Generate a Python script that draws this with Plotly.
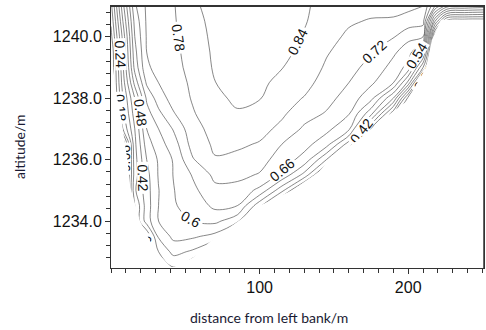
import plotly.graph_objects as go
import numpy as np

# Stations across the section (distance from left bank, m)
station_x = [0, 8, 16, 24, 32, 42, 55, 70, 85, 100, 115, 130, 145, 160, 175, 190, 200, 210, 218, 226, 238, 251]
# Altitude levels (m)
level_y = [1232.5, 1233.0, 1233.5, 1234.0, 1234.5, 1235.0, 1235.5, 1236.0, 1236.5,
           1237.0, 1237.5, 1238.0, 1238.5, 1239.0, 1239.5, 1240.0, 1240.5, 1241.0]

# Velocity profiles (m/s) per station, bottom -> top
v_x0   = [0, 0, 0, 0, 0, 0, 0, 0, 0, 0, 0, 0, 0, 0, 0.0, 0.04, 0.07, 0.10]
v_x8   = [0, 0, 0, 0, 0, 0, 0, 0, 0, 0.18, 0.22, 0.24, 0.27, 0.29, 0.305, 0.32, 0.36, 0.40]
v_x16  = [0.3, 0.3, 0.3, 0.3, 0.3, 0.35, 0.33, 0.335, 0.345, 0.36, 0.39, 0.42, 0.5, 0.56, 0.58, 0.6, 0.62, 0.65]
v_x24  = [0.3, 0.3, 0.3, 0.45, 0.45, 0.455, 0.46, 0.48, 0.51, 0.54, 0.575, 0.61, 0.67, 0.71, 0.72, 0.725, 0.728, 0.73]
v_x32  = [0.3, 0.42, 0.49, 0.54, 0.54, 0.538, 0.545, 0.548, 0.575, 0.60, 0.645, 0.69, 0.72, 0.74, 0.745, 0.745, 0.748, 0.75]
v_x42  = [0.42, 0.50, 0.555, 0.59, 0.595, 0.597, 0.602, 0.605, 0.63, 0.665, 0.715, 0.745, 0.755, 0.765, 0.768, 0.77, 0.773, 0.775]
v_x55  = [0.35, 0.47, 0.55, 0.60, 0.62, 0.645, 0.665, 0.715, 0.745, 0.76, 0.775, 0.785, 0.79, 0.795, 0.80, 0.81, 0.82, 0.83]
v_x70  = [0.3, 0.35, 0.52, 0.615, 0.675, 0.705, 0.735, 0.776, 0.79, 0.80, 0.815, 0.828, 0.839, 0.848, 0.852, 0.855, 0.857, 0.86]
v_x85  = [0.3, 0.3, 0.3, 0.56, 0.66, 0.70, 0.735, 0.765, 0.79, 0.815, 0.835, 0.85, 0.86, 0.865, 0.87, 0.87, 0.87, 0.87]
v_x100 = [0.3, 0.3, 0.3, 0.3, 0.5, 0.645, 0.715, 0.745, 0.775, 0.80, 0.82, 0.843, 0.855, 0.865, 0.87, 0.87, 0.87, 0.87]
v_x115 = [0.3, 0.3, 0.3, 0.3, 0.3, 0.5, 0.645, 0.69, 0.72, 0.765, 0.79, 0.805, 0.82, 0.842, 0.855, 0.86, 0.86, 0.86]
v_x130 = [0.3, 0.3, 0.3, 0.3, 0.3, 0.3, 0.52, 0.64, 0.68, 0.71, 0.745, 0.777, 0.80, 0.815, 0.825, 0.835, 0.845, 0.85]
v_x145 = [0.3, 0.3, 0.3, 0.3, 0.3, 0.3, 0.3, 0.48, 0.625, 0.675, 0.715, 0.74, 0.755, 0.772, 0.785, 0.80, 0.81, 0.815]
v_x160 = [0.3, 0.3, 0.3, 0.3, 0.3, 0.3, 0.3, 0.3, 0.45, 0.615, 0.665, 0.695, 0.72, 0.74, 0.755, 0.77, 0.787, 0.80]
v_x175 = [0.25, 0.25, 0.25, 0.25, 0.25, 0.25, 0.25, 0.25, 0.25, 0.3, 0.5, 0.62, 0.67, 0.70, 0.725, 0.75, 0.775, 0.80]
v_x190 = [0.2, 0.2, 0.2, 0.2, 0.2, 0.2, 0.2, 0.2, 0.2, 0.2, 0.2, 0.42, 0.6, 0.64, 0.67, 0.725, 0.772, 0.80]
v_x200 = [0, 0, 0, 0, 0, 0, 0, 0, 0, 0, 0, 0.1, 0.4, 0.58, 0.63, 0.675, 0.755, 0.795]
v_x210 = [0, 0, 0, 0, 0, 0, 0, 0, 0, 0, 0, 0, 0, 0.3, 0.5, 0.66, 0.74, 0.785]
v_x218 = [0, 0, 0, 0, 0, 0, 0, 0, 0, 0, 0, 0, 0, 0, 0, 0, 0.3, 0.6]
v_x226 = [0, 0, 0, 0, 0, 0, 0, 0, 0, 0, 0, 0, 0, 0, 0, 0, 0.02, 0.45]
v_x238 = [0, 0, 0, 0, 0, 0, 0, 0, 0, 0, 0, 0, 0, 0, 0, 0, 0.0, 0.42]
v_x251 = [0, 0, 0, 0, 0, 0, 0, 0, 0, 0, 0, 0, 0, 0, 0, 0, 0.0, 0.40]

profiles = [v_x0, v_x8, v_x16, v_x24, v_x32, v_x42, v_x55, v_x70, v_x85, v_x100, v_x115,
            v_x130, v_x145, v_x160, v_x175, v_x190, v_x200, v_x210, v_x218, v_x226, v_x238, v_x251]
z = np.array(profiles).T

# River bed profile
bed_x = [0, 1, 3, 7, 11, 13, 19.5, 29.5, 41, 55, 66, 80, 100, 122, 140, 147, 165, 180, 199, 212, 216, 222, 251]
bed_y = [1239.6, 1239.2, 1238.3, 1237.3, 1236.0, 1235.1, 1234.0, 1233.05, 1232.47, 1232.8, 1233.3, 1233.8,
         1234.5, 1235.0, 1235.6, 1236.0, 1236.6, 1237.2, 1237.9, 1239.0, 1239.9, 1240.55, 1240.55]

x_range = [0, 251]
y_range = [1232.47, 1241.0]

fig = go.Figure()
fig.add_trace(go.Contour(
    x=station_x, y=level_y, z=z,
    contours=dict(start=0.06, end=0.84, size=0.06, coloring='lines', showlabels=True,
                  labelfont=dict(size=14, color='#111', family='Liberation Sans, Arial'),
                  labelformat='.2~f'),
    colorscale=[[0, '#555555'], [1, '#555555']],
    line=dict(width=0.7, smoothing=1),
    showscale=False, hoverinfo='skip'))

mask_x = [bed_x[0]] + bed_x + [bed_x[-1]]
mask_y = [y_range[0]] + bed_y + [y_range[0]]
fig.add_trace(go.Scatter(x=mask_x, y=mask_y, mode='lines', fill='toself', fillcolor='white',
                         line=dict(width=0, color='white'), hoverinfo='skip', showlegend=False))

fig.update_layout(
    width=486, height=330,
    margin=dict(l=111, r=2, t=6, b=62),
    paper_bgcolor='white', plot_bgcolor='white',
    showlegend=False,
    font=dict(family='Liberation Sans, Arial', color='#111'),
    xaxis=dict(range=x_range, tickvals=[100, 200], ticks='outside', ticklen=5, tickcolor='#333',
               showline=True, linecolor='#333', linewidth=1, mirror=True, showgrid=False, zeroline=False,
               tickfont=dict(size=16, family='Liberation Sans, Arial', color='#111'),
               minor=dict(dtick=10, tick0=0, ticks='outside', ticklen=4, tickcolor='#333', showgrid=False)),
    yaxis=dict(range=y_range, tickvals=[1234, 1236, 1238, 1240], tickformat='.1f', ticks='outside',
               ticklen=5, tickcolor='#333', showline=True, linecolor='#333', linewidth=1, mirror=True,
               showgrid=False, zeroline=False,
               tickfont=dict(size=16, family='Liberation Sans, Arial', color='#111'),
               minor=dict(dtick=0.4, tick0=1240, ticks='outside', ticklen=4, tickcolor='#333', showgrid=False)),
    shapes=[dict(type='line', xref='paper', yref='paper', x0=0, x1=1, y0=1, y1=1,
                 line=dict(color='#333', width=2), layer='above'),
            dict(type='line', xref='paper', yref='paper', x0=1, x1=1, y0=0, y1=1,
                 line=dict(color='#333', width=1.5), layer='above')],
    annotations=[
        dict(text='distance from left bank/m', xref='paper', yref='paper', x=(269 - 111) / 373, y=-(317 - 268) / 262,
             xanchor='center', yanchor='middle', showarrow=False,
             font=dict(size=14, family='Lato, Open Sans, sans-serif', color='#1a1a33')),
        dict(text='altitude/m', xref='paper', yref='paper', x=-(111 - 19) / 373, y=(268 - 147) / 262,
             xanchor='center', yanchor='middle', showarrow=False, textangle=-90,
             font=dict(size=14, family='Lato, Open Sans, sans-serif', color='#1a1a33')),
    ],
)

fig.write_html('out.html', config={'displayModeBar': False},
               post_script="document.body.style.margin='0';")
